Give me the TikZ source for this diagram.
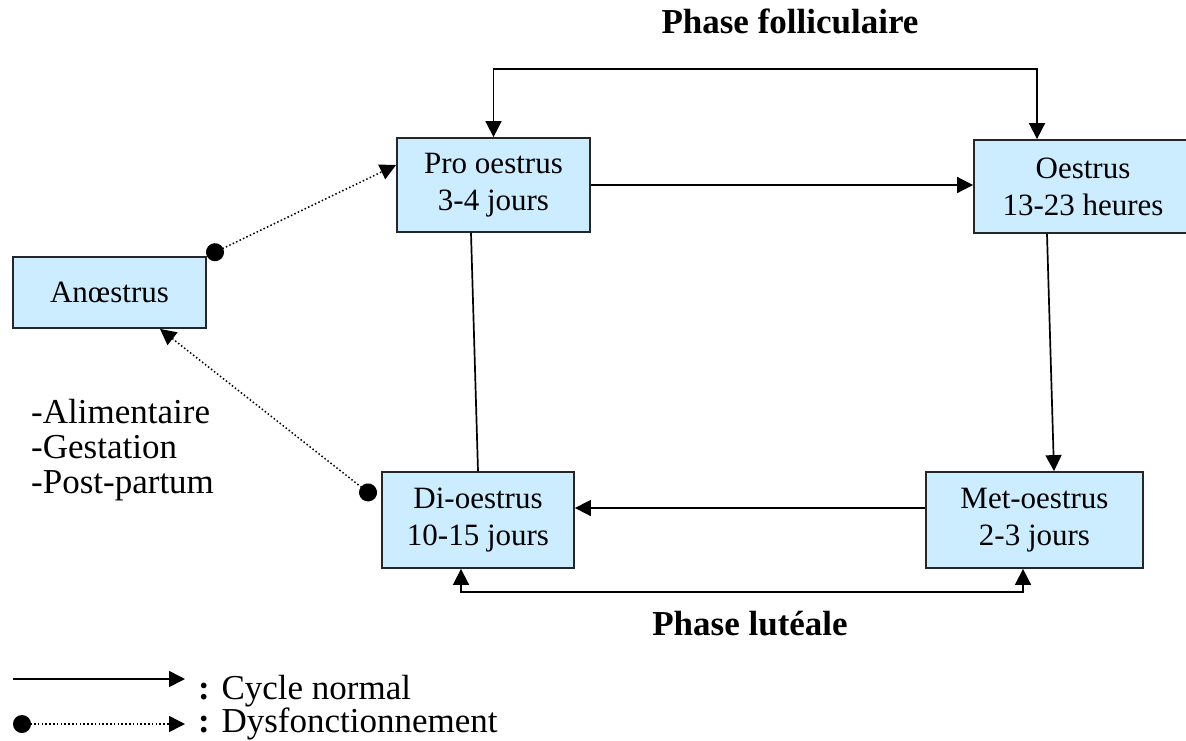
\documentclass[tikz,border=0pt]{standalone}
\usepackage{fontspec}
\setmainfont{Liberation Serif}
\usetikzlibrary{arrows.meta}
\definecolor{boxblue}{RGB}{204,236,255}
\begin{document}
\begin{tikzpicture}[x=1pt,y=-1pt,
  stagebox/.style={draw=black!85,line width=1.8pt,fill=boxblue,align=center,inner sep=0pt,
    font=\fontsize{31}{37}\selectfont},
  conn/.style={line width=1.7pt,-{Triangle[length=16pt,width=16pt]}},
  plain/.style={line width=1.7pt},
  twoway/.style={line width=1.7pt,{Triangle[length=16pt,width=16pt]}-{Triangle[length=16pt,width=16pt]}},
  dys/.style={line width=1.5pt,dash pattern=on 1.5pt off 2.3pt,
    {Circle[length=18pt]}-{Triangle[length=16pt,width=16pt]}},
  lbl/.style={font=\fontsize{35}{35}\selectfont,inner sep=0pt},
  ttl/.style={font=\fontsize{35}{35}\selectfont\bfseries,inner sep=0pt}]
\useasboundingbox (0,0) rectangle (1186,740);

% stages
\node[stagebox,minimum width=193pt,minimum height=94pt] (pro) at (493.5,185) {Pro oestrus\\3-4 jours};
\node[stagebox,minimum width=218pt,minimum height=93pt] (oes) at (1083,186.5) {Oestrus\\13-23 heures};
\node[stagebox,minimum width=193pt,minimum height=71pt] (ana) at (109.5,292.5) {Anœstrus};
\node[stagebox,minimum width=192pt,minimum height=96pt] (di) at (478,520) {Di-oestrus\\10-15 jours};
\node[stagebox,minimum width=217pt,minimum height=96pt] (met) at (1034.5,520) {Met-oestrus\\2-3 jours};

% titles
\node[ttl,anchor=base] (tfol) at (790,33) {Phase folliculaire};
\node[ttl,anchor=base] (tlut) at (750,635) {Phase lutéale};

% causes
\node[lbl,anchor=base west] (c1) at (31,423) {-Alimentaire};
\node[lbl,anchor=base west] (c2) at (31,458) {-Gestation};
\node[lbl,anchor=base west] (c3) at (31,493) {-Post-partum};

% normal cycle connectors
\draw[conn] (pro.east) -- (pro.east -| oes.west);
\draw[conn] ([xshift=-36pt]oes.south) -- ([xshift=19.5pt]met.north);
\draw[conn] ([yshift=12pt]met.west) -- ([yshift=12pt]met.west -| di.east);
\draw[plain] ([xshift=-22.5pt]pro.south) -- (di.north);

\coordinate (tl) at (493.5,69);
\coordinate (tr) at (1037,69);
\draw[twoway] (pro.north) -- (tl) -- (tr) -- (tr |- oes.north);
\coordinate (bl) at (461,592);
\coordinate (br) at (1023,592);
\draw[twoway] (bl |- di.south) -- (bl) -- (br) -- (br |- met.south);

% dysfunction connectors
\draw[dys] (ana.north east) -- ([yshift=20pt]pro.west);
\draw[dys] ([xshift=-6pt,yshift=22pt]di.west) -- ([xshift=50.5pt]ana.south);

% legend
\coordinate (l1a) at (13,679);
\coordinate (l1b) at (185,679);
\coordinate (l2a) at (13,724);
\coordinate (l2b) at (185,724);
\draw[conn] (l1a) -- (l1b);
\draw[dys] (l2a) -- (l2b);
\node[lbl,anchor=base west] (leg1) at (198,699) {\textbf{:} Cycle normal};
\node[lbl,anchor=base west] (leg2) at (198,732) {\textbf{:} Dysfonctionnement};
\end{tikzpicture}
\end{document}
